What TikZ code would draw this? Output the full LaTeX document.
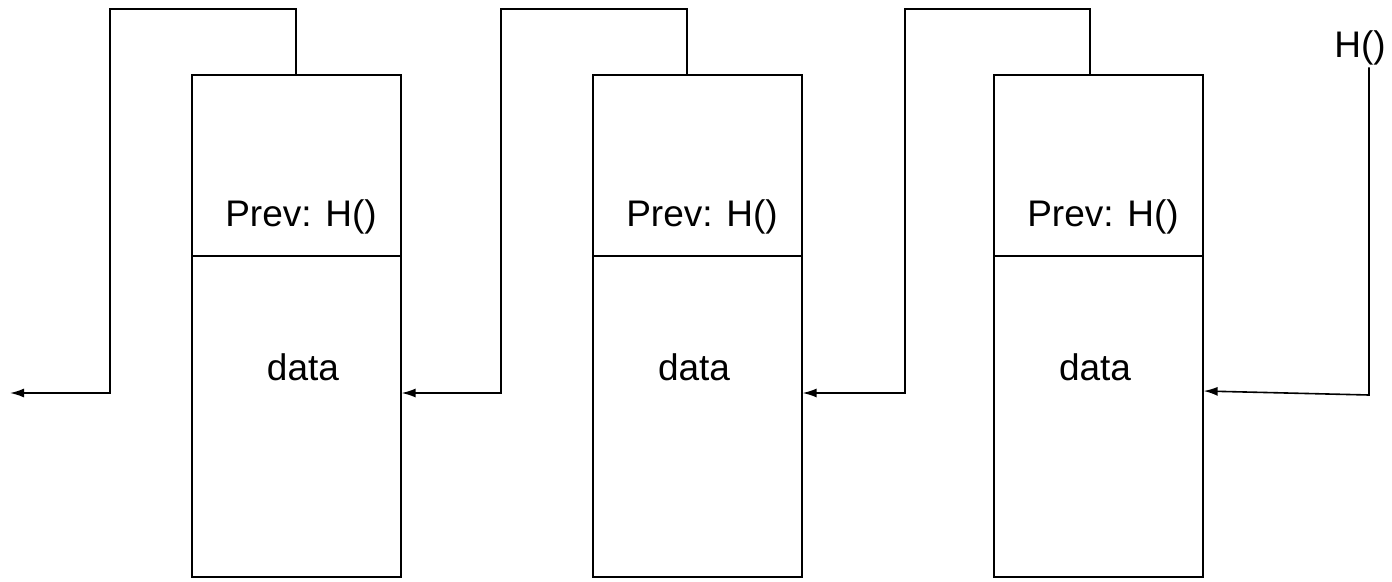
\documentclass[tikz,border=0pt]{standalone}
\usepackage{fontspec}
\setmainfont{Liberation Sans}
\usetikzlibrary{arrows.meta}
\begin{document}
\begin{tikzpicture}[x=1pt,y=-1pt,
  blockbox/.style={draw,line width=1.6pt,minimum width=209pt,minimum height=502pt,inner sep=0pt,anchor=north west},
  link/.style={draw,line width=1.6pt},
  linkarrow/.style={link,-{Latex[length=14pt,width=9pt]}},
  lbl/.style={font=\fontsize{37}{40}\selectfont,inner sep=0pt}]
\useasboundingbox (0,0) rectangle (1392,581);
% blocks
\node[blockbox] (b1) at (191,74) {};
\node[blockbox] (b2) at (592,74) {};
\node[blockbox] (b3) at (993,74) {};
\foreach \b in {b1,b2,b3}{
  \draw[line width=1.6pt] (\b.north west |- 0,256) coordinate (\b-dl) -- (\b.north east |- 0,256) coordinate (\b-dr);
}
\node[lbl] (p1) at (301,217) {Prev: H()};
\node[lbl] (p2) at (702,217) {Prev: H()};
\node[lbl] (p3) at (1103,217) {Prev: H()};
\node[lbl] (d1) at (303,367) {data};
\node[lbl] (d2) at (694,367) {data};
\node[lbl] (d3) at (1095,367) {data};
\node[lbl] (h) at (1360,48) {H()};
% connectors
\coordinate (c0) at (10,393);
\draw[linkarrow] (b1.north west -| 296,0) -- (296,9) -- (110,9) -- (110,393) -- (c0);
\draw[linkarrow] (b2.north west -| 687,0) -- (687,9) -- (501,9) -- (501,393) -- (b1.east |- 0,393);
\draw[linkarrow] (b3.north west -| 1090,0) -- (1090,9) -- (905,9) -- (905,393) -- (b2.east |- 0,393);
\draw[linkarrow] (h.south -| 1369,0) ++(0,2) -- (1369,395) -- (b3.east |- 0,391);
\end{tikzpicture}
\end{document}
